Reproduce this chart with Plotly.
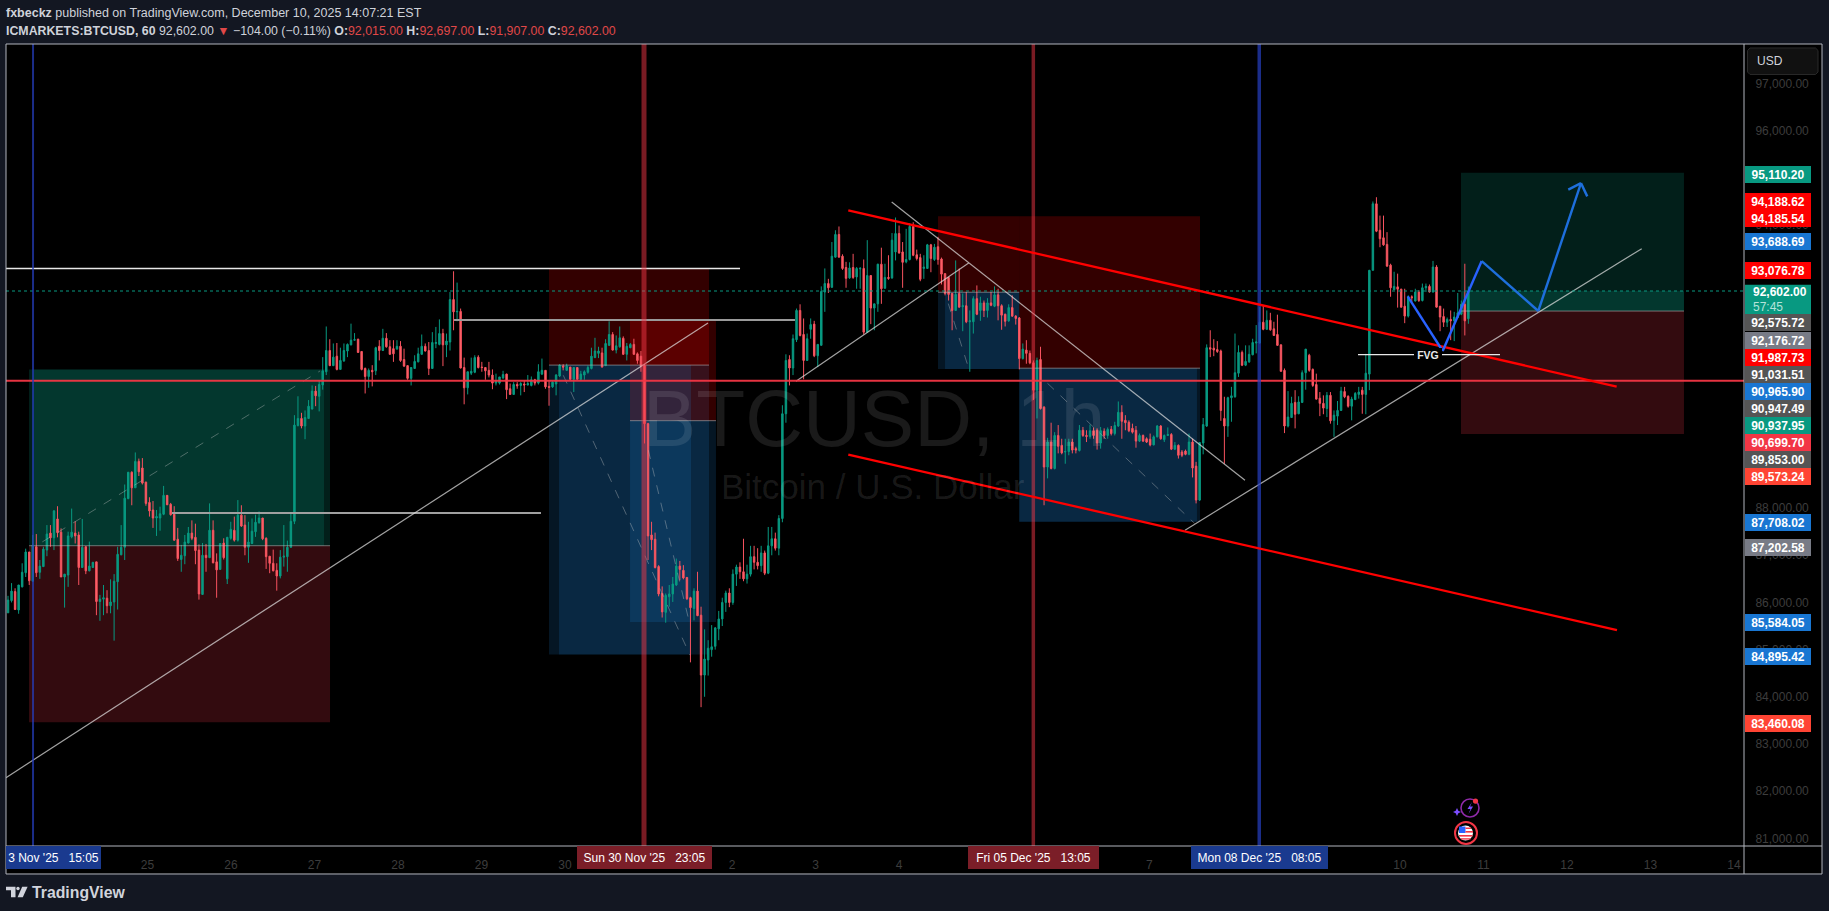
import pandas as pd
import plotly.graph_objects as go

# ---------- candle values (hourly BTCUSD) ----------
opens = [85780,86040,86230,85840,86330,86630,87070,86450,87180,86640,
86760,87110,87470,87370,87770,87490,86540,86580,87390,87470,
87430,86740,87180,86670,86740,86860,86020,86070,86090,85930,
86010,86440,87010,87170,88200,88760,88430,88990,88850,88550,
88120,87960,87790,87790,87870,88270,88080,87870,87340,86910,
86990,87260,87470,87380,87110,86170,87000,86950,87530,86860,
86700,87260,86500,87360,87530,87320,87850,87640,87170,87250,
87500,87690,87790,87360,86980,86830,86680,86560,86960,86970,
87170,87720,89750,89900,89740,89900,90100,90480,90370,90610,
90890,91340,91020,91220,90940,91120,91330,91460,91560,91580,
91320,90960,90790,90920,90910,91430,91340,91600,91420,91380,
91370,91430,91150,91020,90750,90960,91100,91260,91430,91340,
90960,91490,91470,91700,91460,91520,92420,92160,92170,90980,
90550,90860,90880,91200,90990,90980,90920,90820,90650,90650,
90760,90840,90530,90410,90620,90600,90630,90610,90600,90720,
90650,90840,90920,90580,90570,90630,90800,91010,90920,90990,
90730,90980,90730,90820,90880,90960,91190,91280,91290,91020,
91450,91680,91350,91420,91600,91260,91400,91470,91270,91220,
91020,89790,87430,87340,86760,86190,85790,86120,86180,86370,
86770,86680,86530,86100,85870,86240,85730,84460,84780,85000,
85070,85440,85650,86000,86200,86000,86600,86750,86650,86500,
86600,86970,86850,86780,87050,86620,87200,87350,87150,87780,
90000,91150,90970,91570,92190,91680,91130,91790,91900,91230,
91450,92580,92760,92680,93320,93800,93340,93100,92880,93100,
92900,93070,93080,91730,92930,92240,92330,93170,92660,92890,
92880,93430,93820,93430,93220,93270,93970,93370,93310,93080,
93080,93580,93270,93540,93280,92970,92890,92550,92190,92550,
92270,92290,91950,91950,92440,92190,92350,92190,92350,92280,
92520,92290,92110,91970,92250,92070,92030,91170,91350,91280,
91080,90500,91150,90140,88870,89400,88840,89540,89330,89190,
89200,89400,89260,89220,89650,89540,89520,89640,89650,89380,
89630,89540,89670,89580,89740,90030,89860,89820,89690,89650,
89420,89540,89470,89460,89340,89510,89740,89450,89540,89560,
89250,89330,89190,89210,89140,89400,88890,88170,89380,89740,
91400,91390,91360,91330,89900,89740,90340,90360,90860,91300,
91030,91100,91250,91500,91500,91940,91790,91980,91800,91680,
91460,90920,89740,89920,90240,90000,90240,90870,91240,90940,
90620,90330,90220,90110,90390,89860,89950,90070,90470,90370,
90160,90300,90410,90500,90410,90840,93040,94450,93890,93730,
93590,93150,92630,92690,92640,92280,92070,92480,92390,92580,
92400,92670,92700,92580,93110,92280,92060,91940,92000,91970,
92040,92110,92320,92015]

highs = [86140,86410,86300,86370,86830,87140,87070,87430,87450,86900,
87180,87640,87640,87960,88040,87570,86600,87500,87990,87720,
87500,87770,87190,87290,86860,86860,86160,86370,86260,86490,
86600,87180,87640,88500,88760,88780,89180,89050,89060,88560,
88230,88150,87960,88030,88470,88270,88110,88040,87580,87220,
87430,87600,87740,87670,87230,87260,87240,88100,87740,87040,
87250,87360,87390,87710,87820,88170,88060,87850,87710,87780,
87860,87930,87790,87380,86980,87120,86830,87110,87640,87310,
87890,89970,90370,90020,90070,90290,90600,90590,90710,91200,
91850,91580,91490,91500,91400,91490,91490,91910,91710,91590,
91330,90980,90960,91030,91420,91560,91800,91710,91560,91560,
91560,91540,91380,91030,90990,91240,91400,91680,91490,91520,
91730,91840,92000,91800,91700,92580,93020,92780,92230,91190,
90890,91190,91240,91240,91100,90980,91100,90940,90850,90780,
90910,90850,90640,90670,90670,90670,90700,90820,90790,90740,
91050,91170,90920,90690,90690,90840,91050,91050,91060,90990,
90990,90980,90910,90920,91020,91400,91610,91420,91400,91580,
91960,91730,91660,91850,91640,91500,91500,91590,91300,91330,
91050,89810,87710,87480,86790,86340,86190,86370,86540,86930,
86880,86790,86540,86120,86300,86650,85910,85430,85200,85520,
85480,85820,86100,86250,86300,86700,86800,86850,87350,86800,
87200,87200,87150,87200,87100,87600,87600,87480,87850,90180,
91260,91240,91680,92230,92320,92020,91700,92020,91970,91470,
92700,93080,92860,93640,93890,93970,93380,93220,93210,93390,
93110,93110,93270,93680,92930,92330,93180,93520,93180,93360,
93830,94160,93990,93640,93920,94040,94060,93480,93390,93360,
93600,93600,93600,93750,93310,92980,92900,92560,93250,93080,
92550,92580,92190,92490,92720,92480,92400,92450,92580,92700,
92650,92320,92120,92320,92510,92090,92050,91490,91560,91340,
91130,91190,91420,90160,89490,89810,89610,89760,89470,89470,
89470,89470,89300,89760,89720,89650,89770,89710,89690,89720,
89690,89710,89740,89830,90260,90180,89970,89860,89790,89740,
89580,89560,89500,89580,89540,89760,89760,89560,89710,89590,
89400,89350,89230,89240,89580,89470,88980,89400,89910,91470,
91770,91580,91540,91360,90360,90360,90570,91700,91450,91340,
91450,91450,91590,91880,92260,92300,92190,92140,91950,92100,
91470,90960,90480,90360,90500,90370,90920,91370,91270,90960,
90850,90460,90390,90460,90460,90070,90270,90570,90570,90390,
90360,90460,90570,90570,91270,93050,94500,94590,94200,94200,
93850,93180,93010,92970,92650,92650,92510,92510,92650,92620,
92760,92760,92740,93240,93150,92280,92230,92040,92190,92160,
92560,92400,93180,92697]

lows = [85780,86000,85840,85760,86320,86540,86370,86450,86540,86500,
86750,86980,87180,87110,87380,86540,85890,86330,87360,87250,
86370,86730,86600,86660,86740,85730,85610,85730,85770,85770,
85190,85850,87000,86900,88190,88060,88430,88680,88500,88050,
87820,87580,87410,87520,87850,88070,87840,87310,86880,86650,
86810,87250,87320,86810,86060,86160,86650,86940,86830,86100,
86700,86910,86390,87330,87290,87290,87600,87000,86840,87240,
87390,87670,87320,86710,86620,86660,86250,86510,86760,86650,
87160,87660,89730,89690,89460,89900,90090,90160,90050,90510,
90820,91010,91010,90920,90940,91100,91200,91450,91550,91290,
90920,90430,90550,90580,90820,91130,91330,91400,91250,91100,
91360,91100,90990,90720,90600,90950,91090,91250,91320,90820,
90950,91390,91450,91010,91200,91340,91770,91960,90960,90200,
90410,90820,90860,90960,90890,90720,90770,90520,90600,90620,
90740,90310,90400,90400,90530,90390,90460,90600,90580,90600,
90620,90820,90530,90170,90550,90390,90780,90920,90910,90720,
90460,90720,90700,90720,90850,90940,91180,91180,90980,91010,
91440,91340,91280,91400,91250,91130,91390,91250,91060,90890,
89370,86900,87110,86720,86130,85680,85570,85910,86010,86350,
86470,86490,86050,84730,85620,85710,83780,84000,84450,84850,
85000,85200,85500,85800,85900,85950,86350,86500,86450,86400,
86550,86700,86700,86650,86580,86600,87000,87100,87000,87700,
89810,90600,90820,91520,91640,90730,91120,91590,91200,90990,
91450,92160,92560,92670,93310,93310,93050,92670,92860,92860,
92650,92650,91680,91720,91900,91770,92160,92330,92650,92840,
92860,93250,93390,92670,93190,93250,93340,93250,92810,92860,
93080,93000,93240,93160,92740,92510,92400,91770,92180,92250,
91750,91920,90890,91700,92090,91970,92050,92040,92280,92260,
91980,91780,91850,91950,92050,91890,90940,91150,91060,91050,
90290,89900,90090,88060,88630,88820,88820,89160,89140,88940,
89120,89160,89160,89200,89510,89400,89470,89470,89240,89260,
89470,89470,89540,89540,89720,89470,89650,89610,89580,89280,
89400,89400,89380,89310,89330,89500,89450,89400,89530,89230,
89230,89050,89080,89120,89120,88650,88100,88150,89140,89720,
91200,91220,91290,89850,88940,89510,89830,90340,90780,91010,
91010,91080,91240,91280,91490,91770,91780,91760,91650,91440,
90890,89590,89710,89920,89690,89990,90230,90510,90890,90570,
90300,89950,89990,89930,89790,89510,89760,90060,90330,90130,
89860,90290,90320,90000,89990,90500,93040,93850,93530,93560,
93110,92480,92620,92250,92250,91920,92040,92370,92380,92370,
92380,92580,92570,92570,92250,91750,91840,91840,91560,91540,
92030,92090,91660,91907]

closes = [86050,86240,85850,86370,86640,87070,86460,87210,86630,86770,
87130,87450,87370,87940,87480,86540,86600,87410,87490,87410,
86740,87170,86670,86770,86850,86020,86070,86100,85930,86010,
86450,87020,87170,88210,88760,88430,88990,88770,88530,88100,
87940,87790,87820,87880,88270,88070,87860,87320,86930,87000,
87280,87470,87360,87100,86180,87000,86950,87530,86840,86690,
87250,86950,87380,87550,87320,87850,87620,87170,87280,87510,
87700,87790,87350,86970,86830,86670,86560,86960,86980,87170,
87720,89760,89900,89740,89920,90160,90480,90380,90620,90910,
91340,91020,91200,90940,91130,91340,91470,91560,91570,91300,
90940,90790,90920,90890,91400,91340,91600,91420,91260,91270,
91430,91130,91010,90750,90980,91110,91270,91430,91330,90960,
91510,91510,91700,91460,91540,92420,92160,92170,90970,90550,
90890,90900,91190,90980,90980,90910,90820,90650,90700,90780,
90830,90510,90410,90620,90590,90640,90610,90640,90720,90650,
90890,90920,90570,90560,90670,90820,91030,90990,91010,90730,
90980,90730,90840,90890,90980,91220,91330,91330,90990,91490,
91680,91350,91440,91610,91260,91430,91470,91260,91130,91010,
89790,87410,87330,86740,86180,85800,86150,86180,86390,86770,
86700,86520,86080,85890,86240,85720,84460,84800,85030,85060,
85460,85650,86000,86200,86000,86600,86750,86650,86500,86600,
86970,86850,86780,87050,86620,87200,87350,87150,87780,90000,
91130,90970,91590,92190,91660,91130,91590,91890,91230,91470,
92590,92760,92670,93340,93800,93320,93080,92870,93090,92890,
93080,93080,91730,92930,92240,92330,93170,92650,92890,92870,
93680,93820,93410,93210,93270,93970,93360,93290,92850,93110,
93580,93290,93530,93270,92960,92550,92530,92190,92530,92260,
92290,91950,91970,92440,92110,92350,92190,92350,92300,92520,
92290,92090,91960,92250,92070,92020,91170,91370,91280,91080,
90500,91130,90110,88870,89400,88840,89540,89310,89170,89200,
89400,89230,89230,89650,89540,89520,89640,89540,89380,89640,
89540,89670,89580,89750,90030,89840,89810,89640,89610,89420,
89540,89420,89400,89340,89510,89740,89470,89540,89560,89250,
89330,89120,89120,89140,89400,88850,88170,89390,89770,91400,
91370,91350,91320,90070,89740,90340,90380,90870,91300,91030,
91110,91260,91510,91520,91940,91790,91980,91780,91660,91450,
90900,89740,89930,90220,89990,90250,90870,91370,90920,90600,
90310,90220,90120,90390,89850,89970,90070,90480,90360,90160,
90310,90430,90460,90410,90860,93040,94450,93870,93710,93580,
93130,92670,92700,92640,92260,92070,92480,92460,92580,92400,
92670,92700,92580,93110,92260,92050,91940,92000,91970,92050,
92140,92320,91970,92602]
assert len(opens) == len(highs) == len(lows) == len(closes), (len(opens), len(highs), len(lows), len(closes))

times = pd.date_range("2025-11-23 07:54", periods=len(opens), freq="3659s")

# ---------- axis labels (those not wholly covered by a tag in the reference) ----------
price_ticks = [81000, 82000, 83000, 84000, 85000, 86000, 87000, 88000, 94000, 96000, 97000]
day_dates = ["2025-11-24", "2025-11-25", "2025-11-26", "2025-11-27", "2025-11-28", "2025-11-29", "2025-11-30",
             "2025-12-01", "2025-12-02", "2025-12-03", "2025-12-04", "2025-12-07", "2025-12-10",
             "2025-12-11", "2025-12-12", "2025-12-13", "2025-12-14"]
day_labels = ["24", "25", "26", "27", "28", "29", "30", "Dec", "2", "3", "4", "7", "10", "11", "12", "13", "14"]

# ---------- drawing tools, as (hours after 23 Nov 00:00, price) ----------
position_boxes = [  # h0, h1, top, entry, bottom, upper colour, lower colour
    (13.94, 100.46, 90937.95, 87202.58, 83460.08, "g", "r"),
    (163.4, 209.4, 93076.78, 91031.51, 84895.42, "d", "b"),
    (186.69, 211.4, 91987.73, 89853.00, 85584.05, "d", "b"),
    (275.22, 298.58, 94185.54, 92575.72, 90947.49, "d", "b"),
    (298.58, 350.53, 94188.62, 90965.90, 87708.02, "d", "b"),
    (425.55, 489.65, 95110.20, 92176.72, 89573.24, "g", "r"),
]
extra_fills = [  # h0, h1, top, bottom, colour
    (15.23, 98.73, 90937.95, 87202.58, "g"),
    (166.28, 204.22, 91031.51, 84895.42, "b"),
    (277.24, 298.58, 92575.72, 90947.49, "b"),
    (298.58, 349.66, 90965.90, 87708.02, "b"),
    (425.55, 489.65, 92602.00, 92176.72, "g"),
]
v_events = [(15.09, "blue", 2), (190.71, "red", 5), (302.62, "red", 3.5), (367.56, "blue", 3.5)]
h_segments = [
    (7.32, 218.31, 93076.78, "#e8e8e8", 1.5),
    (136.1, 234.11, 91987.73, "#9a9a9a", 2),
    (55.04, 161.1, 87898, "#a0a0a0", 2),
]
thin_lines = [
    (7.32, 82286, 209.1, 91923),
    (234.4, 90688, 284.04, 93195),
    (261.91, 94487, 363.46, 88591),
    (346.22, 87532, 477.5, 93500),
]
dashed_lines = [
    (17.76, 87284, 97.58, 90907),
    (167.51, 90815, 203.93, 84883),
    (191.95, 89227, 203.93, 85519),
    (278.18, 92335, 284.22, 90921),
    (306.69, 90646, 349.0, 87674),
]
channel_lines = [(249.43, 94311, 470.3, 90576), (249.43, 89135, 470.39, 85413)]
support_price = 90699.70
last_price = 92602.00
fvg_level = (395.95, 436.76, 91254)
path_hours = [410.23, 420.29, 431.5, 447.77, 460.04]
path_prices = [92489, 91330, 93237, 92178, 94889]
arrow_hours = [456.39, 460.04, 461.85]
arrow_prices = [94750, 94889, 94608]

# ---------- right-hand price tags ----------
tag_texts = ["95,110.20", "94,188.62", "94,185.54", "93,688.69", "93,076.78", "92,575.72", "92,176.72", "91,987.73",
             "91,031.51", "90,965.90", "90,947.49", "90,937.95", "90,699.70", "89,853.00", "89,573.24", "87,708.02",
             "87,202.58", "85,584.05", "84,895.42", "83,460.08"]
tag_colors = ["#089981", "#ff0000", "#ff0000", "#1976d2", "#ff0000", "#555555", "#787b86", "#ff0000",
              "#555555", "#1976d2", "#555555", "#089981", "#f23645", "#555555", "#ff4433", "#1976d2",
              "#787b86", "#1976d2", "#1976d2", "#ff4433"]
tag_rows = [174, 200.7, 218.3, 240.7, 270, 322.3, 340, 357.3, 374, 391, 408, 425, 442, 459, 476, 522.7, 547.3, 622.7, 656, 723.3]

time_tags = [("3 Nov '25   15:05", 6, 101, "#1a3a8f"),
             ("Sun 30 Nov '25   23:05", 577, 712, "#7b1e28"),
             ("Fri 05 Dec '25   13:05", 968, 1099, "#7b1e28"),
             ("Mon 08 Dec '25   08:05", 1191, 1328, "#1a3a8f")]

# ---------- geometry helpers ----------
W, H = 1829, 911
L, R, T_, B = 6, 1744, 43.5, 846
def px(x): return (x - L) / (R - L)
def py(y): return (B - y) / (B - T_)
def D(h): return (pd.Timestamp("2025-11-23") + pd.Timedelta(hours=h)).strftime("%Y-%m-%d %H:%M:%S")

FILL = {"g": "rgba(8,153,129,0.2)", "r": "rgba(242,54,69,0.21)", "d": "rgba(255,0,0,0.2)", "b": "rgba(33,150,243,0.15)"}
VCOL = {"blue": "rgba(38,62,190,0.72)", "red": "rgba(242,54,69,0.5)"}
shapes, notes = [], []

def rect_px(x0, y0, x1, y1, fill, line=None, lw=0, layer="above"):
    shapes.append(dict(type="rect", xref="paper", yref="paper", x0=px(x0), x1=px(x1), y0=py(y0), y1=py(y1),
                       fillcolor=fill, line=dict(color=line or "rgba(0,0,0,0)", width=lw), layer=layer))
def circ_px(cx, cy, r, fill, line, lw):
    shapes.append(dict(type="circle", xref="paper", yref="paper", x0=px(cx - r), x1=px(cx + r), y0=py(cy - r), y1=py(cy + r),
                       fillcolor=fill, line=dict(color=line, width=lw), layer="above"))
def path_px(pts, fill=None, line=None, lw=0, close=True, layer="above"):
    d = "M " + " L ".join(f"{px(a):.6f},{py(b):.6f}" for a, b in pts) + (" Z" if close else "")
    shapes.append(dict(type="path", xref="paper", yref="paper", path=d, fillcolor=fill or "rgba(0,0,0,0)",
                       line=dict(color=line or "rgba(0,0,0,0)", width=lw), layer=layer))
def seg(h0, p0, h1, p1, color, width, dash="solid"):
    shapes.append(dict(type="line", x0=D(h0), x1=D(h1), y0=p0, y1=p1, xref="x", yref="y",
                       line=dict(color=color, width=width, dash=dash), layer="above"))
def note(text, x, y, size=12, color="#ffffff", xa="center", ya="middle", **kw):
    notes.append(dict(text=text, xref="paper", yref="paper", x=px(x), y=py(y), xanchor=xa, yanchor=ya, showarrow=False,
                      font=dict(size=size, color=color, family="Liberation Sans"), borderpad=0, borderwidth=0, **kw))

# background panels under the traces
rect_px(R, T_, 1822, 874, "#000000", layer="below")
rect_px(L, B, R, 874, "#000000", layer="below")

# position tools (under the candles)
for h0, h1, top, entry, bot, c_up, c_dn in position_boxes:
    shapes.append(dict(type="rect", x0=D(h0), x1=D(h1), y0=entry, y1=top, fillcolor=FILL[c_up], line_width=0, layer="below"))
    shapes.append(dict(type="rect", x0=D(h0), x1=D(h1), y0=bot, y1=entry, fillcolor=FILL[c_dn], line_width=0, layer="below"))
    seg(h0, entry, h1, entry, "rgba(190,190,190,0.55)", 1)
for h0, h1, top, bot, c in extra_fills:
    shapes.append(dict(type="rect", x0=D(h0), x1=D(h1), y0=bot, y1=top, fillcolor=FILL[c], line_width=0, layer="below"))

# line tools (over the candles)
for h0, p0, h1, p1 in dashed_lines:
    seg(h0, p0, h1, p1, "rgba(200,200,200,0.38)", 1, "dash")
for h0, h1, p, c, w in h_segments:
    seg(h0, p, h1, p, c, w)
for h0, p0, h1, p1 in thin_lines:
    seg(h0, p0, h1, p1, "rgba(225,225,225,0.72)", 1.2)
seg(7.32, last_price, 506.9, last_price, "#089981", 1, "dot")
seg(7.32, support_price, 506.9, support_price, "rgba(242,54,69,0.95)", 2)
for h, kind, w in v_events:
    seg(h, 80837, h, 97838, VCOL[kind], w)
for h0, p0, h1, p1 in channel_lines:
    seg(h0, p0, h1, p1, "#ff0000", 2.3)
seg(fvg_level[0], fvg_level[2], fvg_level[1], fvg_level[2], "#e8e8e8", 1.4)
for i in range(len(path_hours) - 1):
    seg(path_hours[i], path_prices[i], path_hours[i + 1], path_prices[i + 1], "#2962ff" if i < 2 else "#1e6fdc", 2.4)
for i in range(2):
    seg(arrow_hours[i], arrow_prices[i], arrow_hours[i + 1], arrow_prices[i + 1], "#1e6fdc", 2.4)

# frame
rect_px(L, T_, 1822, 874, "rgba(0,0,0,0)", "#b2b5be", 1)
path_px([(R, T_), (R, 874)], line="#b2b5be", lw=1, close=False)
path_px([(L, B), (1822, B)], line="#b2b5be", lw=1, close=False)

# watermark
note("BTCUSD, 1h", 874, 418, 80, "rgba(255,255,255,0.1)")
note("Bitcoin / U.S. Dollar", 873, 486, 35, "rgba(255,255,255,0.1)")

# FVG label
note("<b>FVG</b>", 1428, 354.3, 10.5, "#e8e8e8", bgcolor="#000000", width=28, height=13)

# price tags
for t, c, y in zip(tag_texts, tag_colors, tag_rows):
    note(f"<b>{t}</b>", 1745, y, 12, "#ffffff", xa="left", bgcolor=c, width=66, height=17, align="center", valign="middle")
rect_px(1745, 284.3, 1811, 315, "#089981")
note("<b>92,602.00</b>", 1753, 292, 12, "#ffffff", xa="left")
note("57:45", 1753, 306.5, 12, "#b5e3da", xa="left")

# USD box
d = [(1750, 47.5), (1815.5, 47.5), (1818, 50), (1818, 71.5), (1815.5, 74), (1750, 74), (1747.5, 71.5), (1747.5, 50)]
path_px(d, fill="#111111", line="#2a2a2a", lw=1)
note("USD", 1757, 61, 12, "#d1d4dc", xa="left")

# time tags
for t, x0, x1, c in time_tags:
    note(t, x0, 858, 12, "#ffffff", xa="left", bgcolor=c, width=x1 - x0, height=23, align="center", valign="middle")

# header
note("<b>fxbeckz</b> published on TradingView.com, December 10, 2025 14:07:21 EST", 6, 12.7, 12.5, "#cfd2da", xa="left")
RD = "#e04848"
note(f"<b>ICMARKETS:BTCUSD, 60</b> 92,602.00 <span style='color:{RD}'>▼</span> −104.00 (−0.11%) "
     f"<b>O:</b><span style='color:{RD}'>92,015.00</span> <b>H:</b><span style='color:{RD}'>92,697.00</span> "
     f"<b>L:</b><span style='color:{RD}'>91,907.00</span> <b>C:</b><span style='color:{RD}'>92,602.00</span>",
     6, 30, 12.35, "#cfd2da", xa="left")

# footer logo
path_px([(6, 886.8), (15.5, 886.8), (15.5, 897.3), (11, 897.3), (11, 890.3), (6, 890.3)], fill="#d1d4dc")
circ_px(18, 888.6, 1.7, "#d1d4dc", "#d1d4dc", 0)
path_px([(22.2, 886.8), (27.6, 886.8), (22.8, 897.3), (17.6, 897.3)], fill="#d1d4dc")
note("<b>TradingView</b>", 32, 892.5, 15.8, "#d1d4dc", xa="left")

# event icons
circ_px(1470, 808, 9, "rgba(0,0,0,0)", "#8e2aa8", 1.6)
path_px([(1472, 802), (1467.5, 809), (1470.5, 809), (1468.5, 814), (1473, 806.5), (1470, 806.5)], fill="#7c4dff")
circ_px(1475.5, 801, 2.6, "#f23645", "#f23645", 0)
path_px([(1457, 808), (1458.3, 810.7), (1461, 812), (1458.3, 813.3), (1457, 816), (1455.7, 813.3), (1453, 812), (1455.7, 810.7)], fill="#7c4dff")
circ_px(1466, 833, 11, "rgba(0,0,0,0)", "#f23645", 2)
circ_px(1465.5, 833, 7.5, "#ffffff", "#ffffff", 0)
rect_px(1459, 826.5, 1465.5, 833, "#2962ff")
rect_px(1459, 835, 1472.5, 836.6, "#f23645")
rect_px(1461, 838.2, 1470.5, 839.6, "#f23645")
rect_px(1465.5, 827.5, 1471, 829, "#f23645")
rect_px(1465.5, 831, 1473, 832.6, "#f23645")

fig = go.Figure(go.Candlestick(
    x=times, open=opens, high=highs, low=lows, close=closes, showlegend=False,
    increasing=dict(line=dict(color="#089981", width=1), fillcolor="#089981"),
    decreasing=dict(line=dict(color="#f7525f", width=1), fillcolor="#ff6b6b"),
))
AX = "#3d3d3d"
fig.update_layout(
    width=W, height=H, autosize=False,
    margin=dict(l=L, r=W - R, t=T_, b=H - B, pad=0),
    paper_bgcolor="#131722", plot_bgcolor="#000000",
    boxgap=0.4, showlegend=False, shapes=shapes, annotations=notes,
    font=dict(family="Liberation Sans", size=12, color=AX),
    xaxis=dict(type="date", range=[D(7.32), D(506.9)], rangeslider=dict(visible=False), showgrid=False, zeroline=False,
               showline=False, tickmode="array", tickvals=day_dates, ticktext=day_labels, ticks="outside", ticklen=8,
               tickcolor="#000000", tickfont=dict(size=12, color=AX, family="Liberation Sans")),
    yaxis=dict(side="right", range=[80837, 97838], showgrid=False, zeroline=False, showline=False, tickmode="array",
               tickvals=price_ticks, ticktext=[f"{v:,.2f}" for v in price_ticks], ticks="outside", ticklen=8,
               tickcolor="#000000", tickfont=dict(size=12, color=AX, family="Liberation Sans")),
)
fig.write_html("out.html", config=dict(displayModeBar=False),
               post_script="document.body.style.margin='0';document.body.style.background='#131722';document.body.style.overflow='hidden';")
